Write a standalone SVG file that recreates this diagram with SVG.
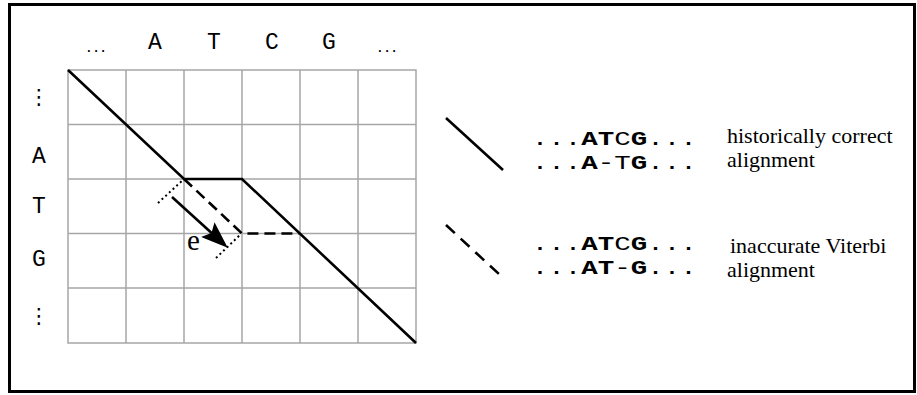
<svg xmlns="http://www.w3.org/2000/svg" width="917" height="395" viewBox="0 0 917 395">
  <style>
    .grid { stroke: #a6a6a6; stroke-width: 1.5; fill: none; }
    .path { stroke: #000; stroke-width: 2.6; fill: none; stroke-linejoin: miter; }
    .dash { stroke-dasharray: 11 6; }
    .ldash { stroke-dasharray: 12 8; }
    .dot { stroke: #000; stroke-width: 2; stroke-dasharray: 2 3; fill: none; }
    .seq { font-family: "Liberation Mono", "DejaVu Sans Mono", monospace; font-size: 23px; fill: #000; }
    .ell { font-family: "Liberation Mono", "DejaVu Sans Mono", monospace; font-size: 12px; font-weight: bold; fill: #000; }
    .vell { font-family: "DejaVu Sans", sans-serif; font-size: 21px; fill: #000; }
    .aln { font-family: "Liberation Mono", "DejaVu Sans Mono", monospace; font-size: 20px; fill: #000; }
    .b { font-weight: bold; }
    .txt { font-family: "Liberation Serif", "Times New Roman", serif; font-size: 22px; fill: #000; }
  </style>
  <defs>
    <marker id="ah" viewBox="0 0 27 20" refX="13" refY="10" markerWidth="27" markerHeight="20" markerUnits="userSpaceOnUse" orient="auto">
      <path d="M0,0 L27,10 L0,20 L5,10 z" fill="#000"/>
    </marker>
  </defs>

  <rect id="frame" x="9.5" y="4.5" width="905" height="387" fill="#fff" stroke="#000" stroke-width="3"/>

  <g id="grid" class="grid">
    <rect x="68" y="70" width="348" height="273"/>
    <line x1="126" y1="70" x2="126" y2="343"/>
    <line x1="184" y1="70" x2="184" y2="343"/>
    <line x1="242" y1="70" x2="242" y2="343"/>
    <line x1="300" y1="70" x2="300" y2="343"/>
    <line x1="358" y1="70" x2="358" y2="343"/>
    <line x1="68" y1="124.5" x2="416" y2="124.5"/>
    <line x1="68" y1="179" x2="416" y2="179"/>
    <line x1="68" y1="233.5" x2="416" y2="233.5"/>
    <line x1="68" y1="288" x2="416" y2="288"/>
  </g>

  <g id="labels-top">
    <text class="ell" x="96" y="52" text-anchor="middle">...</text>
    <text class="seq" x="155" y="49" text-anchor="middle">A</text>
    <text class="seq" x="214" y="49" text-anchor="middle">T</text>
    <text class="seq" x="272" y="49" text-anchor="middle">C</text>
    <text class="seq" x="329" y="49" text-anchor="middle">G</text>
    <text class="ell" x="387" y="52" text-anchor="middle">...</text>
  </g>

  <g id="labels-left">
    <text class="vell" x="39" y="104" text-anchor="middle">⋮</text>
    <text class="seq" x="39" y="163" text-anchor="middle">A</text>
    <text class="seq" x="39" y="213" text-anchor="middle">T</text>
    <text class="seq" x="39" y="266" text-anchor="middle">G</text>
    <text class="vell" x="39" y="323" text-anchor="middle">⋮</text>
  </g>

  <g id="connectors">
    <path id="correct-path" class="path" d="M68,70 L184,179 L242,179 L416,343"/>
    <path id="viterbi-path" class="path dash" d="M184,179 L242,233.5 L300,233.5"/>
    <line class="dot" x1="158" y1="203" x2="184" y2="179"/>
    <line class="dot" x1="216" y1="258" x2="241" y2="234"/>
    <line id="error-arrow" class="path" x1="172" y1="197" x2="217.4" y2="238.3" marker-end="url(#ah)"/>
  </g>

  <text id="e-label" class="txt" x="187" y="250" style="font-size:29px">e</text>

  <g id="legend-correct">
    <line class="path" x1="446" y1="118" x2="503" y2="170"/>
    <text class="aln" x="531.75" y="145" textLength="165" lengthAdjust="spacingAndGlyphs">...<tspan class="b">AT</tspan>C<tspan class="b">G</tspan>...</text>
    <text class="aln" x="531.75" y="169" textLength="165" lengthAdjust="spacingAndGlyphs">...<tspan class="b">A</tspan>-T<tspan class="b">G</tspan>...</text>
    <text class="txt" x="727" y="143">historically correct</text>
    <text class="txt" x="727" y="167">alignment</text>
  </g>

  <g id="legend-viterbi">
    <line class="path ldash" x1="446" y1="225" x2="500" y2="275"/>
    <text class="aln" x="531.75" y="250" textLength="165" lengthAdjust="spacingAndGlyphs">...<tspan class="b">AT</tspan>C<tspan class="b">G</tspan>...</text>
    <text class="aln" x="531.75" y="274" textLength="165" lengthAdjust="spacingAndGlyphs">...<tspan class="b">AT</tspan>-<tspan class="b">G</tspan>...</text>
    <text class="txt" x="730" y="253">inaccurate Viterbi</text>
    <text class="txt" x="727" y="277">alignment</text>
  </g>
</svg>
